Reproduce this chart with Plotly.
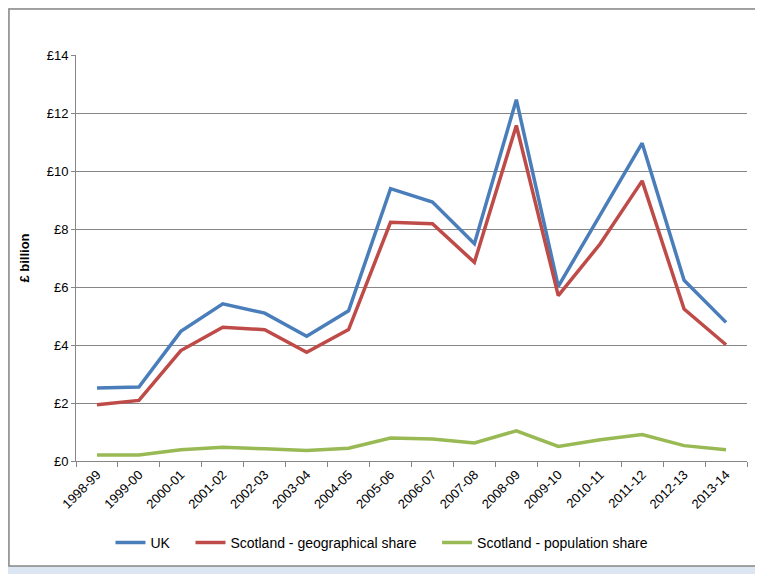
import plotly.graph_objects as go

years = ["1998-99", "1999-00", "2000-01", "2001-02", "2002-03", "2003-04",
         "2004-05", "2005-06", "2006-07", "2007-08", "2008-09", "2009-10",
         "2010-11", "2011-12", "2012-13", "2013-14"]
uk = [2.52, 2.55, 4.47, 5.42, 5.10, 4.30, 5.18, 9.39, 8.93, 7.49, 12.46, 6.02,
      8.49, 10.96, 6.23, 4.78]
scot_geo = [1.94, 2.09, 3.81, 4.61, 4.53, 3.75, 4.53, 8.23, 8.18, 6.85, 11.57,
            5.70, 7.49, 9.66, 5.24, 4.01]
scot_pop = [0.21, 0.21, 0.39, 0.47, 0.42, 0.36, 0.44, 0.79, 0.76, 0.62, 1.04,
            0.50, 0.73, 0.91, 0.53, 0.39]
y_ticks = [0, 2, 4, 6, 8, 10, 12, 14]

font = "Liberation Sans, Arial"
grey = "#868686"
gap = "&nbsp;" * 4  # extra room between legend entries

fig = go.Figure()
fig.add_trace(go.Scatter(x=years, y=uk, name="UK" + gap, mode="lines",
                         line=dict(color="#4a7ebb", width=3.5)))
fig.add_trace(go.Scatter(x=years, y=scot_geo,
                         name="Scotland - geographical share" + gap,
                         mode="lines", line=dict(color="#be4b48", width=3.5)))
fig.add_trace(go.Scatter(x=years, y=scot_pop, name="Scotland - population share",
                         mode="lines", line=dict(color="#98b954", width=3.5)))

# white chart area with grey frame on the pale blue window
fig.add_shape(type="rect", xref="paper", yref="paper", layer="below",
              x0=-0.0999, x1=1.0149, y0=-0.2586, y1=1.1133,
              fillcolor="white", line=dict(color=grey, width=1.5))

# page body adds an 8px margin, so the figure is 8px smaller and margins shifted
fig.update_layout(
    width=755, height=566,
    margin=dict(l=68, r=16, t=47, b=113),
    paper_bgcolor="#dce6f2",
    plot_bgcolor="white",
    font=dict(family=font, size=13, color="black"),
    showlegend=True,
    legend=dict(orientation="h", x=0.456, xanchor="center", y=-0.202,
                yanchor="middle", font=dict(size=14), itemwidth=30,
                bgcolor="rgba(0,0,0,0)"),
)
fig.update_xaxes(type="category", range=[-0.5, len(years) - 0.5],
                 automargin=False, showgrid=False, showline=True,
                 linecolor=grey, linewidth=1, ticks="outside",
                 tickson="boundaries", ticklen=5, tickcolor=grey,
                 tickangle=-45, tickfont=dict(size=13))
fig.update_yaxes(range=[0, 14], tickvals=y_ticks, automargin=False,
                 ticktext=["£" + str(v) for v in y_ticks],
                 showgrid=True, gridcolor=grey, gridwidth=1,
                 showline=True, linecolor=grey, linewidth=1,
                 ticks="outside", ticklen=4, tickcolor=grey,
                 zeroline=False, tickfont=dict(size=13),
                 title=dict(text="<b>£ billion</b>", font=dict(size=13),
                            standoff=14))

fig.write_html("out.html")
